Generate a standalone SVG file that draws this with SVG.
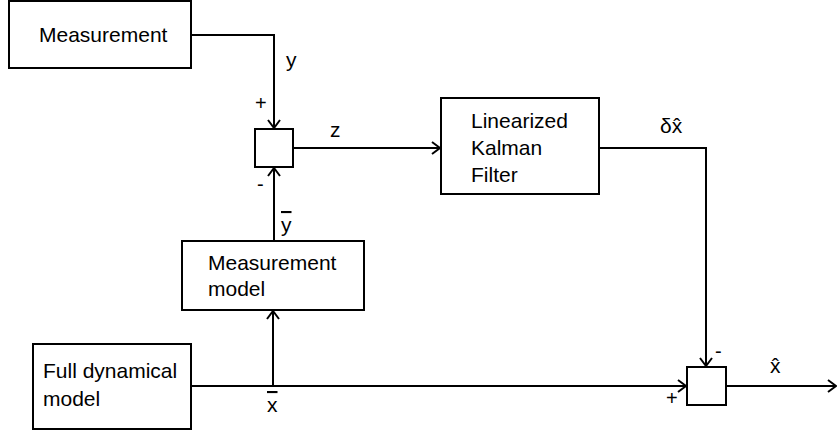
<svg xmlns="http://www.w3.org/2000/svg" width="838" height="434" viewBox="0 0 838 434">
<defs>
<style>
.box{fill:#fff;stroke:#000;stroke-width:2}
.ln{fill:none;stroke:#000;stroke-width:2}
.t{font-family:"Liberation Sans",Arial,sans-serif;font-size:21px;fill:#000}
.s{font-family:"Liberation Sans",Arial,sans-serif;font-size:20px;fill:#000}
</style>
<marker id="ah" viewBox="0 0 10 14" refX="9" refY="7" markerWidth="10" markerHeight="14" markerUnits="userSpaceOnUse" orient="auto">
<path d="M1,1 L9,7 L1,13" fill="none" stroke="#000" stroke-width="2"/>
</marker>
</defs>
<rect width="838" height="434" fill="#fff"/>
<g id="connectors">
<polyline class="ln" points="191,35 274,35 274,128" marker-end="url(#ah)"/>
<line class="ln" x1="274" y1="241" x2="274" y2="168" marker-end="url(#ah)"/>
<line class="ln" x1="293" y1="148" x2="440" y2="148" marker-end="url(#ah)"/>
<polyline class="ln" points="599,148 706,148 706,366" marker-end="url(#ah)"/>
<line class="ln" x1="191" y1="386" x2="686" y2="386" marker-end="url(#ah)"/>
<line class="ln" x1="273" y1="386" x2="273" y2="311" marker-end="url(#ah)"/>
<line class="ln" x1="726" y1="386" x2="836" y2="386" stroke-width="1.6" marker-end="url(#ah)"/>
<text class="t" x="286" y="67">y</text>
<text class="s" x="255" y="110">+</text>
<text class="s" x="257" y="191">-</text>
<text class="t" x="330" y="137">z</text>
<text class="t" x="281" y="232" text-decoration="overline">y</text>
<text class="t" x="660" y="133">δx̂</text>
<text class="s" x="715" y="358">-</text>
<text class="s" x="666" y="405">+</text>
<text class="t" x="770" y="373">x̂</text>
<text class="t" x="267" y="412" text-decoration="overline">x</text>
</g>
<g id="measurement">
<rect class="box" x="9" y="1" width="182" height="67"/>
<text class="t" x="39" y="42">Measurement</text>
</g>
<g id="sum1">
<rect class="box" x="255" y="129" width="38" height="38"/>
</g>
<g id="kalman">
<rect class="box" x="441" y="98" width="158" height="96"/>
<text class="t" x="471" y="128">Linearized</text>
<text class="t" x="471" y="155">Kalman</text>
<text class="t" x="471" y="182">Filter</text>
</g>
<g id="measmodel">
<rect class="box" x="182" y="241" width="182" height="69"/>
<text class="t" x="208" y="270">Measurement</text>
<text class="t" x="208" y="296">model</text>
</g>
<g id="fulldyn">
<rect class="box" x="33" y="344" width="158" height="85"/>
<text class="t" x="43" y="378">Full dynamical</text>
<text class="t" x="43" y="406">model</text>
</g>
<g id="sum2">
<rect class="box" x="687" y="367" width="39" height="38"/>
</g>
</svg>
